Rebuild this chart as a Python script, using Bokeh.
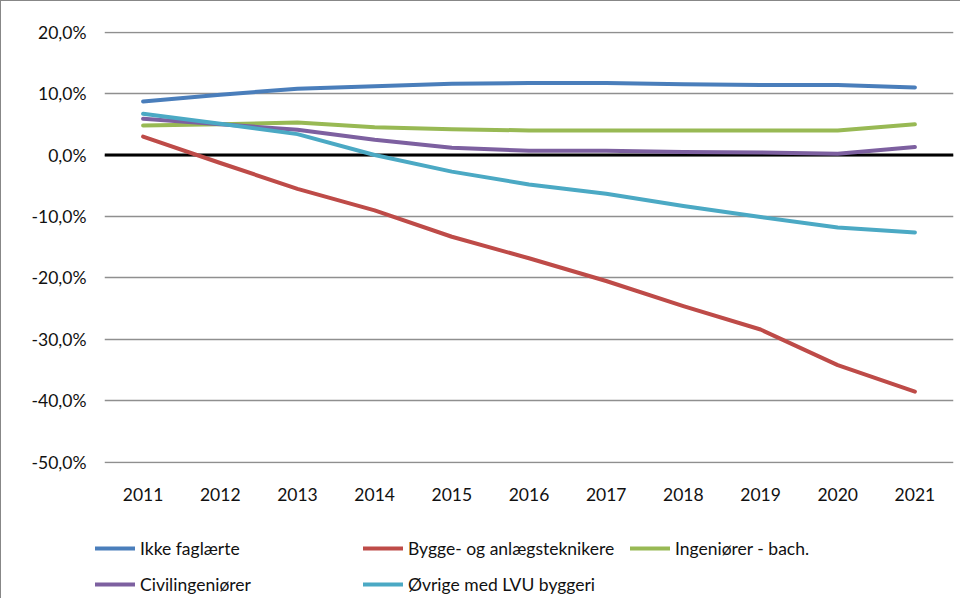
from bokeh.plotting import figure
from bokeh.models import FixedTicker, Span, Legend, LegendItem, Range1d
from bokeh.layouts import column
from bokeh.embed import file_html
from bokeh.resources import INLINE

years = ["2011", "2012", "2013", "2014", "2015", "2016", "2017", "2018", "2019", "2020", "2021"]
ikke_faglaerte = [8.7, 9.8, 10.8, 11.2, 11.6, 11.7, 11.7, 11.5, 11.4, 11.4, 11.0]
bygge_anlaeg = [3.0, -1.3, -5.5, -9.0, -13.3, -16.8, -20.5, -24.6, -28.4, -34.2, -38.5]
ingenioerer_bach = [4.8, 5.0, 5.3, 4.5, 4.2, 4.0, 4.0, 4.0, 4.0, 4.0, 5.0]
civilingenioerer = [5.9, 5.0, 4.1, 2.5, 1.2, 0.7, 0.7, 0.5, 0.4, 0.2, 1.3]
oevrige_lvu = [6.7, 5.1, 3.4, 0.0, -2.7, -4.8, -6.3, -8.3, -10.1, -11.8, -12.6]

series_names = ["Ikke faglærte", "Bygge- og anlægsteknikere", "Ingeniører - bach.",
                "Civilingeniører", "Øvrige med LVU byggeri"]
series_values = [ikke_faglaerte, bygge_anlaeg, ingenioerer_bach, civilingenioerer, oevrige_lvu]
series_colors = ["#4A7EBB", "#BE4B48", "#98B954", "#7D60A0", "#4BA9C4"]

y_ticks = [-50, -40, -30, -20, -10, 0, 10, 20]
y_tick_labels = ["-50,0%", "-40,0%", "-30,0%", "-20,0%", "-10,0%", "0,0%", "10,0%", "20,0%"]

FONT = "Lato"
FS = "17.5px"
BORDER = "1px solid #878787"

# ---- main chart ----
p = figure(x_range=years, y_range=(-50.2, 20.1), width=960, height=520,
           output_backend="svg", toolbar_location=None,
           min_border_left=103, min_border_right=8, min_border_top=30, min_border_bottom=58,
           styles={"border-left": BORDER, "border-top": BORDER})
p.frame_align = False
p.outline_line_color = None
p.background_fill_color = "white"
p.border_fill_color = "white"

p.xgrid.grid_line_color = None
p.ygrid.ticker = FixedTicker(ticks=y_ticks)
p.ygrid.grid_line_color = "#8f8f8f"
p.ygrid.grid_line_width = 1.3

p.yaxis.ticker = FixedTicker(ticks=y_ticks)
p.yaxis.major_label_overrides = dict(zip(y_ticks, y_tick_labels))
for ax in (p.xaxis[0], p.yaxis[0]):
    ax.axis_line_color = None
    ax.major_tick_line_color = None
    ax.minor_tick_line_color = None
    ax.major_tick_in = 0
    ax.major_tick_out = 0
    ax.minor_tick_out = 0
    ax.major_label_text_font = FONT
    ax.major_label_text_font_size = FS
    ax.major_label_text_color = "#111111"
p.yaxis.major_label_standoff = 18
p.xaxis.major_label_standoff = 24

zero = Span(location=0, dimension="width", line_color="black", line_width=3, level="underlay")
p.add_layout(zero)

for vals, col in zip(series_values, series_colors):
    p.line(x=years, y=vals, line_color=col, line_width=4, line_cap="round", line_join="round")

# ---- legend strip (same series, drawn outside its visible range; only legend shows) ----
pl = figure(x_range=years, y_range=Range1d(1000, 1001), width=960, height=78,
            output_backend="svg", toolbar_location=None,
            x_axis_location=None, y_axis_location=None, min_border=0,
            styles={"border-left": BORDER})
pl.frame_align = False
pl.outline_line_color = None
pl.grid.visible = False
pl.background_fill_color = "white"
pl.border_fill_color = "white"

leg_renderers = []
for vals, col in zip(series_values, series_colors):
    r = pl.line(x=years, y=vals, line_color=col, line_width=4, line_cap="round")
    leg_renderers.append(r)

def make_legend(idx, loc):
    items = [LegendItem(label=series_names[i], renderers=[leg_renderers[i]]) for i in idx]
    leg = Legend(items=items, location=loc, orientation="vertical",
                 glyph_width=40, glyph_height=24, label_height=24, label_standoff=5,
                 spacing=12, padding=0, margin=0,
                 label_text_font=FONT, label_text_font_size=FS, label_text_color="#111111",
                 border_line_color=None, background_fill_alpha=0)
    pl.add_layout(leg)

make_legend([0, 3], (94, 2))
make_legend([1, 4], (362, 2))
make_legend([2], (629, 38))

layout = column(p, pl, spacing=0)
open("out.html", "w").write(file_html(layout, INLINE))
